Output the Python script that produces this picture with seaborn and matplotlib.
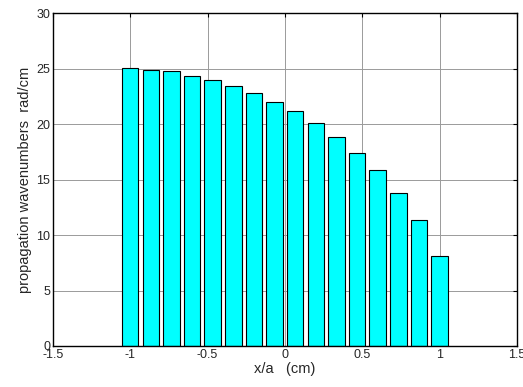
import numpy as np
import matplotlib
matplotlib.use("Agg")
import matplotlib.pyplot as plt
import seaborn as sns

# bar positions (x/a) and propagation wavenumbers (rad/cm)
x_pos = [-1.0, -0.8667, -0.7333, -0.6, -0.4667, -0.3333, -0.2, -0.0667,
         0.0667, 0.2, 0.3333, 0.4667, 0.6, 0.7333, 0.8667, 1.0]
k_vals = [25.07, 24.90, 24.75, 24.35, 23.93, 23.39, 22.76, 21.98,
          21.14, 20.06, 18.83, 17.41, 15.82, 13.81, 11.32, 8.08]

x_ticks = [-1.5, -1, -0.5, 0, 0.5, 1, 1.5]
x_labels = ["-1.5", "-1", "-0.5", "0", "0.5", "1", "1.5"]
y_ticks = [0, 5, 10, 15, 20, 25, 30]

sns.set_style("white")
plt.rcParams["font.family"] = ["Liberation Sans", "DejaVu Sans"]

fig = plt.figure(figsize=(5.23, 3.87), dpi=100)
ax = fig.add_axes([0.101, 0.106, 0.8875, 0.860])

ax.grid(True, color="#9a9a9a", linewidth=0.7, linestyle="-")
ax.set_axisbelow(True)

sns.barplot(x=x_pos, y=k_vals, native_scale=True, width=0.8,
            color="#00FFFF", saturation=1, edgecolor="black", linewidth=0.8, ax=ax)

ax.set_xlim(-1.5, 1.5)
ax.set_ylim(0, 30)
ax.set_xticks(x_ticks)
ax.set_xticklabels(x_labels)
ax.set_yticks(y_ticks)
ax.tick_params(direction="in", length=3, labelsize=9, top=True, right=True,
               pad=2, color="black")
for s in ax.spines.values():
    s.set_visible(True)
    s.set_color("black")
    s.set_linewidth(1.0)

ax.set_xlabel("x/a   (cm)", fontsize=10.5, labelpad=1)
ax.set_ylabel("propagation wavenumbers  rad/cm", fontsize=10.5, labelpad=3)

fig.savefig("out.png", dpi=100)
